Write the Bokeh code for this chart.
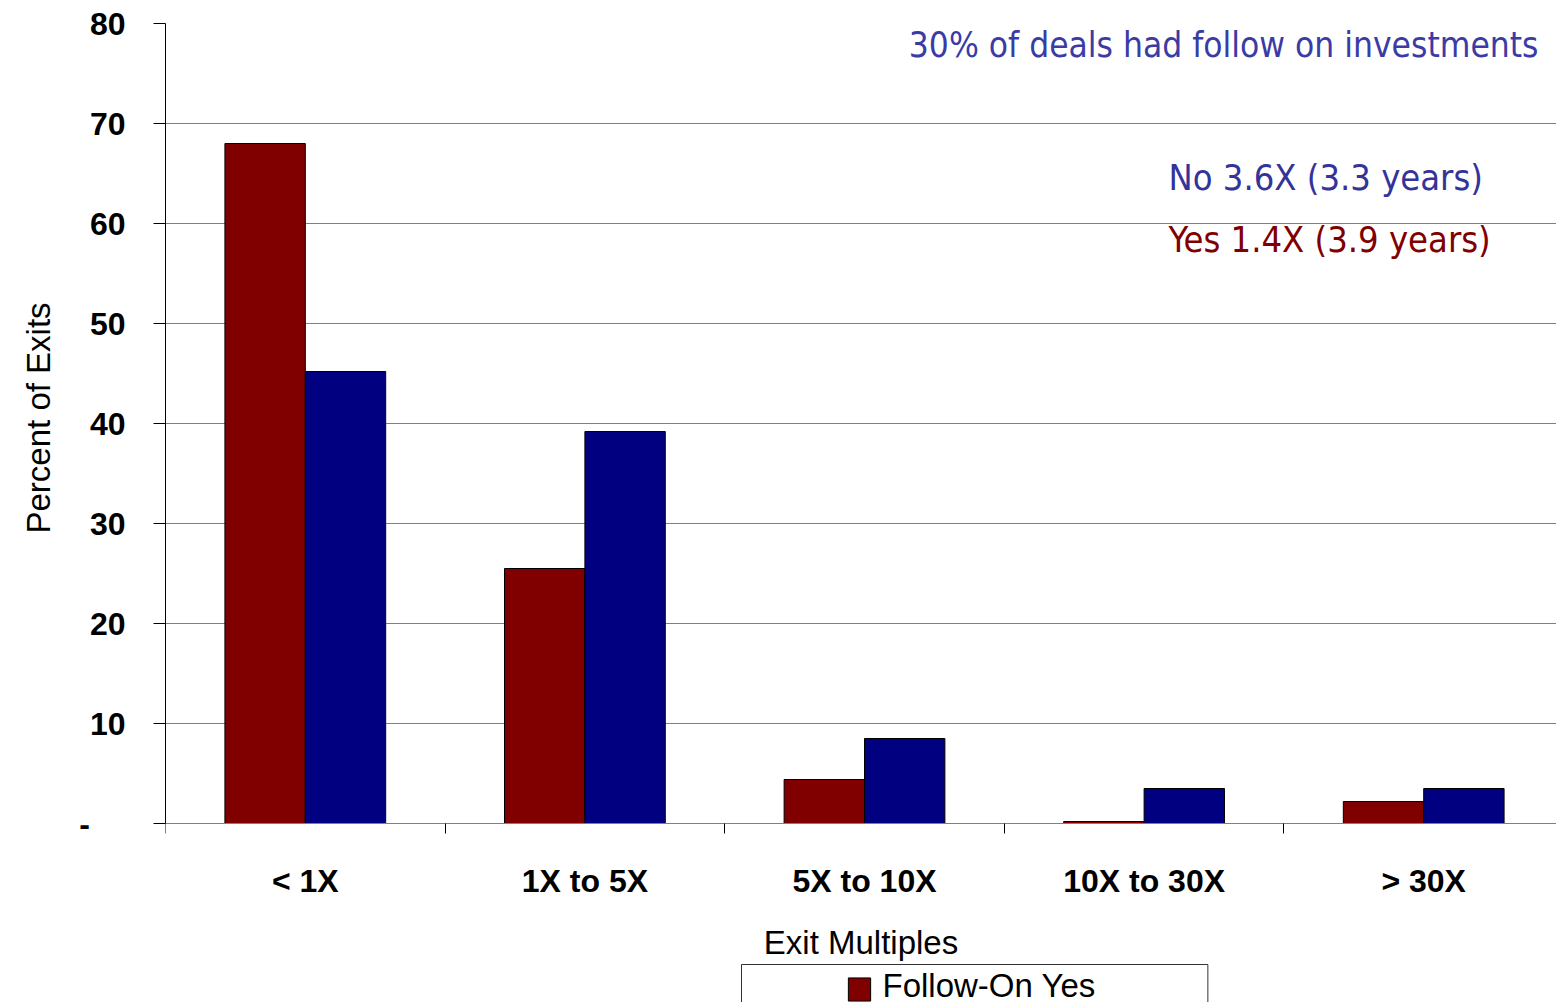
from bokeh.plotting import figure
from bokeh.models import Range1d, FixedTicker, Label, Title
from bokeh.embed import file_html
from bokeh.resources import INLINE
import numpy as np

# Exit-multiple buckets and share of exits (%) with / without follow-on investment
categories = ["< 1X", "1X to 5X", "5X to 10X", "10X to 30X", "> 30X"]
follow_on_yes = [68.0, 25.5, 4.4, 0.2, 2.2]
follow_on_no = [45.2, 39.2, 8.5, 3.5, 3.5]

y_ticks = [0, 10, 20, 30, 40, 50, 60, 70, 80]
y_tick_labels = ["-\u00a0\u00a0\u00a0\u00a0", "10", "20", "30", "40", "50", "60", "70", "80"]

y_title = "Percent of Exits"
x_title = "Exit Multiples"
headline = "30% of deals had follow on investments"
note_no = "No 3.6X (3.3 years)"
note_yes = "Yes 1.4X (3.9 years)"
legend_label = "Follow-On Yes"

RED = "#800000"
BLUE = "#000080"
FONT = "Liberation Sans"
NARROW = "DejaVu Sans Condensed, Liberation Sans"

W, H = 1556, 1002
LEFT, TOP = 165, 23
ZERO_PX = 823                        # pixel row of the value axis' zero
px_per_unit = (ZERO_PX - TOP) / 80.0
slot_px = 279.6                      # width of one bucket in pixels
x_end = (W - LEFT) / slot_px
y_start = -(H - ZERO_PX) / px_per_unit   # room under the axis for labels and key


def data_x(px):
    return (px - LEFT) / slot_px


def data_y(py):
    return (ZERO_PX - py) / px_per_unit


p = figure(width=W, height=H, output_backend="svg", toolbar_location=None,
           x_range=Range1d(0, x_end), y_range=Range1d(y_start, 80),
           min_border_left=LEFT, min_border_right=0, min_border_top=TOP,
           min_border_bottom=0)
p.outline_line_color = None
p.background_fill_color = "white"
p.border_fill_color = "white"

n = len(categories)
centers = np.arange(n) + 0.5
bar_w = 0.2875
p.vbar(x=centers - bar_w / 2, top=follow_on_yes, width=bar_w,
       fill_color=RED, line_color="black", line_width=1)
p.vbar(x=centers + bar_w / 2, top=follow_on_no, width=bar_w,
       fill_color=BLUE, line_color="black", line_width=1)

# y axis, drawn over 0..80 only
p.yaxis.bounds = (0, 80)
p.yaxis.ticker = FixedTicker(ticks=y_ticks)
p.yaxis.major_label_overrides = {t: s for t, s in zip(y_ticks, y_tick_labels)}
p.yaxis.major_label_text_font = FONT
p.yaxis.major_label_text_font_style = "bold"
p.yaxis.major_label_text_font_size = "32px"
p.yaxis.major_label_text_color = "black"
p.yaxis.major_tick_out = 12
p.yaxis.major_tick_in = 0
p.yaxis.minor_tick_out = 0
p.yaxis.minor_tick_in = 0
p.yaxis.major_label_standoff = 28
p.yaxis.axis_line_color = "black"
p.yaxis.major_tick_line_color = "black"

# y title beside the axis, centred on the 0..80 span
p.add_layout(Title(text=y_title, align="left", offset=H - 533,
                   vertical_align="top", standoff=35,
                   text_font=FONT, text_font_style="normal",
                   text_font_size="33px", text_color="black"), "left")

# x axis sits on zero: labels at bucket centres, ticks on bucket boundaries
p.xaxis.fixed_location = 0
p.xaxis.ticker = FixedTicker(ticks=list(centers), minor_ticks=list(range(n + 1)))
p.xaxis.major_label_overrides = {float(c): s for c, s in zip(centers, categories)}
p.xaxis.major_label_text_font = FONT
p.xaxis.major_label_text_font_style = "bold"
p.xaxis.major_label_text_font_size = "32px"
p.xaxis.major_label_text_color = "black"
p.xaxis.major_tick_out = 0
p.xaxis.major_tick_in = 0
p.xaxis.major_tick_line_color = None
p.xaxis.minor_tick_out = 10
p.xaxis.minor_tick_in = 0
p.xaxis.minor_tick_line_color = "black"
p.xaxis.axis_line_color = "#808080"
p.xaxis.major_label_standoff = 29
p.xaxis.axis_label = x_title
p.xaxis.axis_label_text_font = FONT
p.xaxis.axis_label_text_font_style = "normal"
p.xaxis.axis_label_text_font_size = "33px"
p.xaxis.axis_label_text_color = "black"
p.xaxis.axis_label_standoff = 22

p.xgrid.visible = False
p.ygrid.ticker = FixedTicker(ticks=y_ticks)
p.ygrid.grid_line_color = "#808080"
p.ygrid.grid_line_width = 1

# notes inside the plot
p.add_layout(Label(x=data_x(1538), y=data_y(44), text=headline, text_align="right",
                   text_baseline="alphabetic", text_font=NARROW,
                   text_font_size="35px", text_color="#3b3ba6"))
p.add_layout(Label(x=data_x(1168), y=data_y(177), text=note_no, text_align="left",
                   text_baseline="alphabetic", text_font=NARROW,
                   text_font_size="36px", text_color="#333399"))
p.add_layout(Label(x=data_x(1168), y=data_y(239), text=note_yes, text_align="left",
                   text_baseline="alphabetic", text_font=NARROW,
                   text_font_size="36px", text_color=RED))

# key box under the axis title (box anchored at its top-left corner)
p.add_layout(Label(x=data_x(741), y=data_y(964), text=legend_label,
                   text_align="left", text_baseline="top",
                   text_font=FONT, text_font_size="33px", text_color="black",
                   border_line_color="#333333", border_line_width=1,
                   background_fill_color="white",
                   padding=(141, 112, 2, 10)))
p.add_layout(Label(x=data_x(859), y=data_y(989), text="\u00a0",
                   text_align="center", text_baseline="middle",
                   text_font=FONT, text_font_size="1px",
                   background_fill_color=RED, border_line_color="black",
                   border_line_width=1,
                   padding=(11, 11, 11, 11)))

with open("out.html", "w") as f:
    f.write(file_html(p, INLINE))
